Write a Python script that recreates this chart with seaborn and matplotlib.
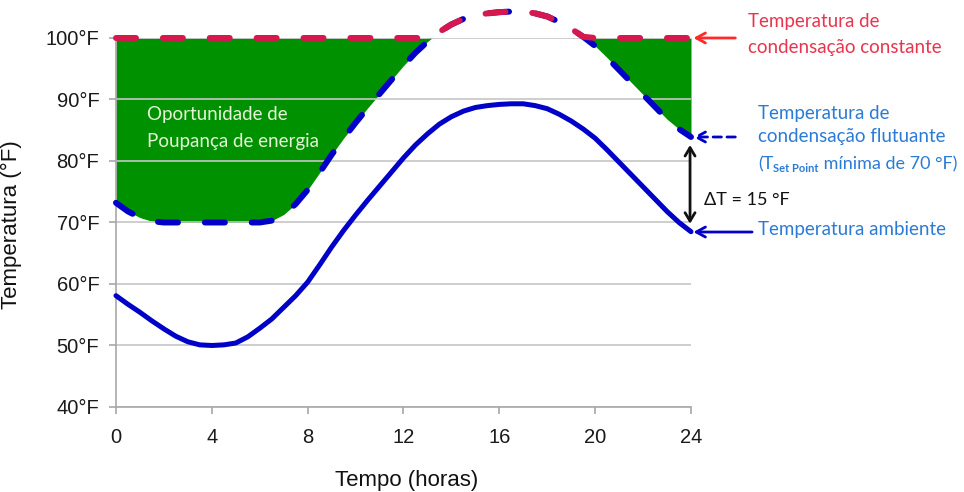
import matplotlib
matplotlib.use("Agg")
import matplotlib.pyplot as plt
import pandas as pd
import seaborn as sns

# ---- data (every half hour) ----
horas = [0, 0.5, 1, 1.5, 2, 2.5, 3, 3.5, 4, 4.5, 5, 5.5, 6, 6.5, 7, 7.5, 8, 8.5, 9, 9.5,
         10, 10.5, 11, 11.5, 12, 12.5, 13, 13.5, 14, 14.5, 15, 15.5, 16, 16.5, 17, 17.5,
         18, 18.5, 19, 19.5, 20, 20.5, 21, 21.5, 22, 22.5, 23, 23.5, 24]
ambiente = [58.1, 56.7, 55.4, 54.0, 52.7, 51.5, 50.6, 50.1, 50.0, 50.1, 50.4, 51.4,
            52.8, 54.3, 56.2, 58.1, 60.3, 63.1, 66.0, 68.7, 71.2, 73.6, 75.9, 78.2,
            80.5, 82.6, 84.4, 86.0, 87.2, 88.1, 88.7, 89.0, 89.2, 89.3, 89.3, 89.0,
            88.5, 87.6, 86.5, 85.2, 83.7, 81.8, 79.8, 77.8, 75.8, 73.8, 71.8, 70.0, 68.5]
flutuante = [73.2, 71.8, 70.8, 70.2, 70.0, 70.0, 70.0, 70.0, 70.0, 70.0, 70.0, 70.0,
             70.0, 70.3, 71.3, 73.0, 75.3, 78.1, 81.0, 83.7, 86.2, 88.6, 90.9, 93.2,
             95.5, 97.6, 99.4, 101.0, 102.2, 103.1, 103.7, 104.0, 104.2, 104.3, 104.3, 104.0,
             103.5, 102.6, 101.5, 100.2, 98.7, 96.8, 94.8, 92.8, 90.8, 88.8, 86.8, 85.2, 83.9]
constante = [100, 100, 100, 100, 100, 100, 100, 100, 100, 100, 100, 100,
             100, 100, 100, 100, 100, 100, 100, 100, 100, 100, 100, 100,
             100, 100, 100, 101.0, 102.2, 103.1, 103.7, 104.0, 104.2, 104.3, 104.3, 104.0,
             103.5, 102.6, 101.5, 100.2, 100, 100, 100, 100, 100, 100, 100, 100, 100]
y_ticks = [40, 50, 60, 70, 80, 90, 100]
y_tick_labels = ["40°F", "50°F", "60°F", "70°F", "80°F", "90°F", "100°F"]
x_ticks = [0, 4, 8, 12, 16, 20, 24]
x_tick_labels = ["0", "4", "8", "12", "16", "20", "24"]

BLUE = "#0000c8"
RED = "#d6184e"
GREEN = "#009100"
TXT_BLUE = "#2b7bd6"
TXT_RED = "#e8344e"
ARROW_RED = "#ff2a2a"

sns.set_theme(style="white")
plt.rcParams["font.family"] = ["Liberation Sans", "DejaVu Sans"]

df = pd.DataFrame({"hora": horas, "ambiente": ambiente,
                   "flutuante": flutuante, "constante": constante})

fig = plt.figure(figsize=(9.64, 4.92), dpi=100)
ax = fig.add_axes([0.1203, 0.1728, 0.5965, 0.75])

ax.fill_between(df["hora"], df["flutuante"], df["constante"], color=GREEN, lw=0, zorder=0.2)

sns.lineplot(data=df, x="hora", y="ambiente", ax=ax, color=BLUE, lw=3.6,
             clip_on=False, zorder=3, solid_capstyle="round", solid_joinstyle="round")
sns.lineplot(data=df, x="hora", y="flutuante", ax=ax, color=BLUE, lw=4.3,
             linestyle=(0, (3.35, 4.5)), dash_capstyle="round", clip_on=False, zorder=3)
sns.lineplot(data=df, x="hora", y="constante", ax=ax, color=RED, lw=4.3,
             linestyle=(0, (3.35, 4.5)), dash_capstyle="round", clip_on=False, zorder=4)

ax.set_xlim(0, 24)
ax.set_ylim(40, 100)
ax.set_xticks(x_ticks)
ax.set_xticklabels(x_tick_labels)
ax.set_yticks(y_ticks)
ax.set_yticklabels(y_tick_labels)
ax.set_axisbelow(True)
ax.yaxis.grid(True, color="#c6c6c6", lw=1.2)
ax.xaxis.grid(False)
for s in ["top", "right"]:
    ax.spines[s].set_visible(False)
for s in ["left", "bottom"]:
    ax.spines[s].set_color("#a8a8a8")
    ax.spines[s].set_linewidth(1.2)
ax.tick_params(axis="both", bottom=True, left=True, length=5, width=1.2,
               color="#a8a8a8", labelsize=14.5, labelcolor="#1a1a1a")
ax.tick_params(axis="x", pad=10)
ax.tick_params(axis="y", pad=7)

ax.set_xlabel("Tempo (horas)", fontsize=16, color="#111111")
ax.set_ylabel("Temperatura (°F)", fontsize=16, color="#111111")
ax.xaxis.set_label_coords(0.506, -0.171)
ax.yaxis.set_label_coords(-0.1635, 0.493)

lato = ["Lato", "DejaVu Sans"]
# green label
for yy, line in [(87.5, "Oportunidade de"), (83.1, "Poupança de energia")]:
    ax.text(1.29, yy, line, family=lato, fontsize=13.5, color="#e4f5d8",
            va="center", ha="left", zorder=5,
            bbox=dict(facecolor=GREEN, edgecolor="none", pad=2))

# right annotations
ax.text(26.38, 102.6, "Temperatura de", family=lato, fontsize=13.5, color=TXT_RED, va="center")
ax.text(26.38, 98.5, "condensação constante", family=lato, fontsize=13.5, color=TXT_RED, va="center")
ax.text(26.8, 87.8, "Temperatura de", family=lato, fontsize=13.5, color=TXT_BLUE, va="center")
ax.text(26.8, 83.9, "condensação flutuante", family=lato, fontsize=13.5, color=TXT_BLUE, va="center")
ax.text(26.8, 68.9, "Temperatura ambiente", family=lato, fontsize=13.5, color=TXT_BLUE, va="center")
ax.text(24.55, 73.7, "ΔT = 15 °F", family=lato, fontsize=13, color="#111111", va="center")

# third line with subscript, built from pieces
fig.canvas.draw()
renderer = fig.canvas.get_renderer()
inv = ax.transData.inverted()
base_y = 78.7
t1 = ax.text(26.8, base_y, "(T", family=lato, fontsize=13, color=TXT_BLUE, va="baseline")
x_next = inv.transform((t1.get_window_extent(renderer).x1, 0))[0]
t2 = ax.text(x_next, base_y - 0.55, "Set Point", family=lato, fontsize=8, weight="bold",
             color=TXT_BLUE, va="baseline")
x_next = inv.transform((t2.get_window_extent(renderer).x1, 0))[0]
ax.text(x_next, base_y, " mínima de 70 °F)", family=lato, fontsize=13, color=TXT_BLUE,
        va="baseline")

# arrows
ax.annotate("", xy=(24.1, 100), xytext=(25.85, 100), annotation_clip=False,
            arrowprops=dict(arrowstyle="->,head_length=0.55,head_width=0.3",
                            color=ARROW_RED, lw=2, shrinkA=0, shrinkB=0))
ax.annotate("", xy=(24.1, 83.9), xytext=(25.85, 83.9), annotation_clip=False,
            arrowprops=dict(arrowstyle="->,head_length=0.55,head_width=0.3",
                            color=BLUE, lw=2, linestyle=(0, (3, 2)), shrinkA=0, shrinkB=0))
ax.annotate("", xy=(24.1, 68.45), xytext=(26.55, 68.45), annotation_clip=False,
            arrowprops=dict(arrowstyle="->,head_length=0.55,head_width=0.3",
                            color=BLUE, lw=2, shrinkA=0, shrinkB=0))
ax.annotate("", xy=(23.96, 69.8), xytext=(23.96, 82.6), annotation_clip=False,
            arrowprops=dict(arrowstyle="<->,head_length=0.5,head_width=0.3",
                            color="#111111", lw=2, shrinkA=0, shrinkB=0))

fig.savefig("out.png", dpi=100)
